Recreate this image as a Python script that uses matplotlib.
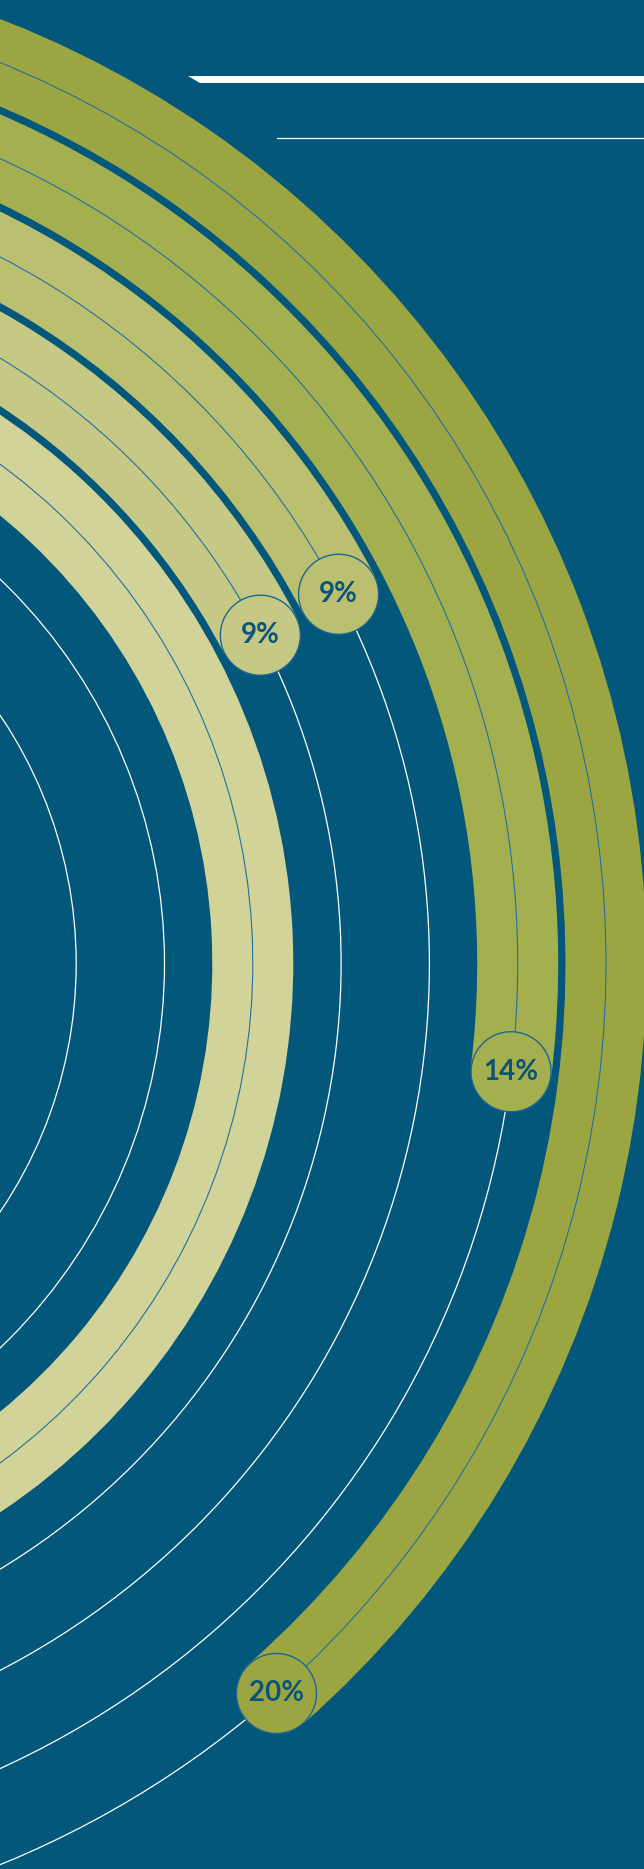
import numpy as np
import matplotlib.pyplot as plt
from matplotlib.patches import Wedge, Arc, Circle, Polygon

W, H = 644, 1869

BG = "#03577a"
LINE_BLUE = "#2470a0"
OUTLINE = "#1d6690"
TEXT = "#0c5478"

# bars, outermost ring first (the innermost visible bar runs past the crop,
# its label is not in the picture)
values = [20, 14, 9, 9, 25]
labels = ["20%", "14%", "9%", "9%", None]
bar_colors = ["#9ba643", "#a4af50", "#bbc071", "#c6c985", "#d1d399"]
n_tracks = 7

# geometry (pixels, y measured upward)
CX, CY = -367, H - 963.6
R_OUTER = 973
STEP = 88.3
BAND = 81
DEG_PER_PCT = 6.93
START = 90


def main():
    fig = plt.figure(figsize=(W / 100, H / 100), dpi=100)
    fig.patch.set_facecolor(BG)
    ax = fig.add_axes([0, 0, 1, 1])
    ax.set_facecolor(BG)
    ax.set_xlim(0, W)
    ax.set_ylim(0, H)
    ax.axis("off")

    radii = [R_OUTER - i * STEP for i in range(n_tracks)]

    # white guide tracks
    for r in radii:
        ax.add_patch(Circle((CX, CY), r, fill=False, ec="white", lw=0.9, zorder=1))

    for r, v, lab, col in zip(radii, values, labels, bar_colors):
        end = START - v * DEG_PER_PCT
        ax.add_patch(Wedge((CX, CY), r + BAND / 2, end, START, width=BAND,
                           fc=col, ec="none", zorder=2))
        ax.add_patch(Arc((CX, CY), 2 * r, 2 * r, theta1=end, theta2=START,
                         color=LINE_BLUE, lw=0.8, zorder=3))
        if lab is None:
            continue
        ex = CX + r * np.cos(np.radians(end))
        ey = CY + r * np.sin(np.radians(end))
        ax.add_patch(Circle((ex, ey), 40, fc=col, ec=OUTLINE, lw=1.0, zorder=4))
        ax.text(ex, ey, lab, ha="center", va="center", color=TEXT,
                fontsize=20, fontweight="bold", family=["Lato", "DejaVu Sans"],
                zorder=5)

    # header rules
    ax.add_patch(Polygon([(188, H - 76), (W, H - 76), (W, H - 83), (200, H - 83)],
                         closed=True, fc="white", ec="none", zorder=6))
    ax.plot([277, W], [H - 138, H - 138], color="white", lw=0.9, zorder=6)

    fig.savefig("out.png", dpi=100, facecolor=BG)
    plt.close(fig)


if __name__ == "__main__":
    main()
